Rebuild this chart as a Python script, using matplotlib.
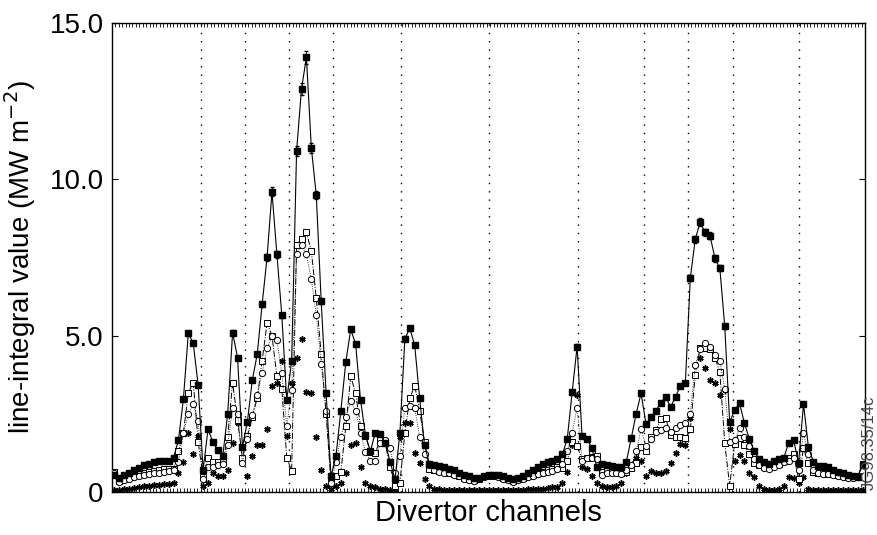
import numpy as np
import matplotlib
matplotlib.use('Agg')
import matplotlib.pyplot as plt

plt.rcParams['font.family'] = ['Liberation Sans', 'DejaVu Sans']

# one value per divertor channel (MW m^-2)
total = [0.55, 0.45, 0.55, 0.62, 0.7, 0.78, 0.85, 0.9, 0.95, 0.98, 1.0, 1.0, 1.1, 1.66, 2.97, 5.08, 4.76, 3.42,
         0.7, 2.0, 1.6, 1.34, 1.15, 2.5, 5.1, 4.3, 1.44,
         2.24, 3.58, 4.4, 6.0, 7.5, 9.6, 7.6, 5.65, 2.94,
         4.2, 10.9, 12.9, 13.9, 11.0, 9.5, 6.1, 3.16, 0.5,
         1.15, 2.6, 4.15, 5.2, 4.73, 2.94, 1.82, 1.3, 1.9, 1.85, 1.57, 0.97, 0.4,
         1.9, 4.9, 5.24, 4.7, 3.0, 1.5, 0.9, 0.85, 0.83, 0.8, 0.75, 0.7, 0.62, 0.55, 0.5, 0.45, 0.45, 0.5, 0.55,
         0.55, 0.55, 0.5, 0.45, 0.4, 0.45, 0.5, 0.6, 0.7, 0.8, 0.9, 0.95, 1.0, 1.05, 1.2, 1.7, 3.2, 4.65,
         1.8, 1.7, 1.4, 0.8, 0.9, 0.86, 0.83, 0.8, 0.8, 0.96, 1.72, 2.5, 3.16,
         2.17, 2.4, 2.6, 2.85, 3.04, 2.72, 3.04, 3.4, 3.5,
         6.84, 8.08, 8.63, 8.3, 8.2, 7.48, 7.16, 5.3, 2.24,
         2.62, 2.84, 2.2, 1.7, 1.3, 1.05, 0.95, 0.9, 1.0, 1.05, 1.1, 1.57, 1.66, 0.93,
         2.81, 1.44, 0.97, 0.83, 0.82, 0.8, 0.7, 0.64, 0.6, 0.55, 0.5, 0.48, 0.86]

open_sq = [0.65, 0.35, 0.42, 0.5, 0.55, 0.6, 0.62, 0.65, 0.68, 0.7, 0.72, 0.72, 0.75, 1.3, 1.9, 3.16, 3.5, 1.6,
           0.48, 1.1, 0.96, 0.96, 0.96, 1.76, 3.5, 2.3, 1.1,
           1.8, 2.4, 3.0, 4.2, 5.4, 5.0, 3.7, 3.3, 1.1,
           0.67, 7.9, 8.1, 8.3, 7.7, 6.2, 4.4, 2.5, 0.3,
           0.5, 0.64, 2.1, 3.7, 3.15, 2.1, 1.8, 1.27, 1.25, 1.66, 1.56, 0.8, 0.2,
           0.3, 1.9, 3.0, 3.4, 2.6, 1.6, 0.75, 0.7, 0.68, 0.66, 0.62, 0.58, 0.52, 0.45, 0.4, 0.38, 0.42, 0.5, 0.55,
           0.52, 0.5, 0.45, 0.4, 0.35, 0.4, 0.45, 0.5, 0.55, 0.6, 0.65, 0.7, 0.75, 0.8, 0.77, 1.0, 1.6, 1.47,
           1.05, 1.08, 1.3, 1.15, 0.64, 0.67, 0.64, 0.67, 0.6, 0.64, 0.77, 0.93, 1.44,
           1.3, 1.76, 1.98, 2.33, 2.36, 1.82, 1.76, 1.76, 1.72,
           2.0, 3.74, 4.6, 4.6, 4.57, 4.3, 3.84, 1.56, 0.2,
           1.53, 1.72, 1.5, 1.2, 0.93, 0.86, 0.8, 0.8, 0.86, 0.9, 1.0, 1.1, 1.2, 0.4,
           1.4, 0.93, 0.64, 0.6, 0.6, 0.58, 0.57, 0.54, 0.5, 0.48, 0.48, 0.5, 0.9]

circles = [0.6, 0.33, 0.38, 0.43, 0.48, 0.52, 0.55, 0.58, 0.6, 0.62, 0.64, 0.66, 0.7, 0.95, 1.9, 2.5, 2.8, 2.27,
           0.4, 0.8, 0.8, 0.85, 0.9, 1.5, 2.7, 2.5, 0.93,
           1.7, 2.46, 3.1, 3.8, 4.6, 5.0, 4.85, 3.8, 2.1,
           3.26, 7.6, 7.9, 7.6, 6.8, 5.66, 4.1, 2.6, 0.3,
           0.97, 1.76, 2.4, 2.9, 2.6, 1.9, 1.28, 1.0, 1.0, 1.57, 1.66, 1.4, 0.6,
           1.15, 2.7, 2.75, 2.68, 1.77, 1.2, 0.85, 0.7, 0.65, 0.62, 0.6, 0.55, 0.5, 0.42, 0.38, 0.35, 0.4, 0.48, 0.52,
           0.5, 0.48, 0.43, 0.38, 0.32, 0.38, 0.42, 0.48, 0.52, 0.56, 0.6, 0.64, 0.68, 0.75, 0.9, 1.3, 1.9, 2.7,
           1.0, 1.1, 1.1, 1.05, 0.55, 0.6, 0.62, 0.6, 0.58, 0.7, 0.86, 1.3, 2.0,
           1.47, 1.7, 1.92, 1.98, 2.04, 1.92, 2.04, 2.14, 2.2,
           2.5, 4.06, 4.57, 4.76, 4.64, 4.38, 4.2, 3.3, 1.6,
           1.66, 2.04, 1.76, 1.47, 1.05, 0.85, 0.78, 0.75, 0.8, 0.85, 0.95, 1.0, 1.1, 0.7,
           1.88, 1.2, 0.7, 0.6, 0.58, 0.56, 0.54, 0.5, 0.48, 0.45, 0.45, 0.48, 0.85]

stars = [0.05, 0.05, 0.08, 0.1, 0.12, 0.15, 0.18, 0.2, 0.22, 0.22, 0.25, 0.25, 0.3, 0.6, 0.96, 1.9, 1.2, 1.8,
         0.2, 0.3, 0.6, 0.5, 0.5, 0.7, 1.56, 2.2, 1.0,
         0.5, 1.15, 1.5, 1.5, 2.0, 3.4, 3.5, 4.2, 1.8,
         3.5, 4.3, 4.9, 3.2, 3.16, 1.75, 0.7, 0.2, 0.1,
         0.2, 0.3, 0.6, 1.5, 1.56, 0.8, 0.3, 0.2, 0.15, 0.1, 0.1, 0.05, 0.05,
         1.75, 2.2, 2.2, 1.25, 0.93, 0.4, 0.2, 0.1, 0.08, 0.06, 0.05, 0.05, 0.05, 0.05, 0.05, 0.05, 0.05, 0.05, 0.05,
         0.05, 0.05, 0.05, 0.05, 0.05, 0.05, 0.05, 0.08, 0.1, 0.1, 0.1, 0.12, 0.15, 0.15, 0.3, 0.65, 1.5, 3.1,
         0.8, 0.75, 0.5, 0.3, 0.2, 0.15, 0.15, 0.2, 0.3, 0.6, 0.8, 1.1, 1.0,
         0.5, 0.67, 0.6, 0.6, 0.67, 0.93, 1.24, 1.53, 1.5,
         2.36, 4.06, 4.3, 3.96, 3.57, 3.5, 3.1, 3.26, 2.0,
         1.0, 1.18, 1.0, 0.6, 0.48, 0.2, 0.1, 0.05, 0.05, 0.1, 0.2, 0.48, 0.45, 0.3,
         0.48, 0.1, 0.05, 0.05, 0.05, 0.05, 0.05, 0.05, 0.05, 0.05, 0.05, 0.05, 0.05]

# camera boundaries (in channel units)
boundaries = [18, 27, 36, 45, 58.7, 76.6, 94.7, 108, 117, 126.2, 139.6]

yticks = [0, 5, 10, 15]
ylabels = ['0', '5.0', '10.0', '15.0']

n = len(total)
x = np.arange(n) + 0.5

fig = plt.figure(figsize=(8.78, 5.35), dpi=100)
ax = fig.add_axes([0.1276, 0.0804, 0.8576, 0.8766])

for b in boundaries:
    ax.axvline(b, color='black', lw=1.0, ls=(0, (1, 5)), zorder=1)

ax.errorbar(x, total, yerr=np.array(total) * 0.015, color='black', lw=0.8,
            marker='s', ms=4, mfc='black', mec='black', capsize=1.5, elinewidth=0.6, zorder=4)
ax.plot(x, open_sq, color='black', lw=0.7, ls='-.', marker='s', ms=5,
        mfc='white', mec='black', mew=0.7, zorder=3)
ax.plot(x, circles, color='black', lw=0.6, ls=':', marker='o', ms=4.5,
        mfc='white', mec='black', mew=0.7, zorder=3)
ax.plot(x, stars, ls='none', marker=(6, 2, 0), ms=4.5, mec='black', mew=1.1, zorder=2)

ax.set_xlim(0, n)
ax.set_ylim(0, 15)
ax.set_yticks(yticks)
ax.set_yticklabels(ylabels, fontsize=20)
ax.set_xticks([])
ax.set_xticks(np.arange(0, n, 9 / 13), minor=True)
ax.tick_params(axis='x', which='minor', direction='in', length=3, top=True, bottom=True, width=0.6)
ax.tick_params(axis='y', direction='in', length=4, left=True, right=True, pad=6)
for s in ax.spines.values():
    s.set_linewidth(1.0)

ax.set_xlabel('Divertor channels', fontsize=21, labelpad=2)
ax.set_ylabel('line-integral value (MW m$^{-2}$)', fontsize=20, labelpad=8)

fig.text(0.999, 0.085, 'JG98.35/14c', rotation=90, fontsize=12, color='#444444',
         ha='right', va='bottom')

fig.savefig('out.png', dpi=100)
